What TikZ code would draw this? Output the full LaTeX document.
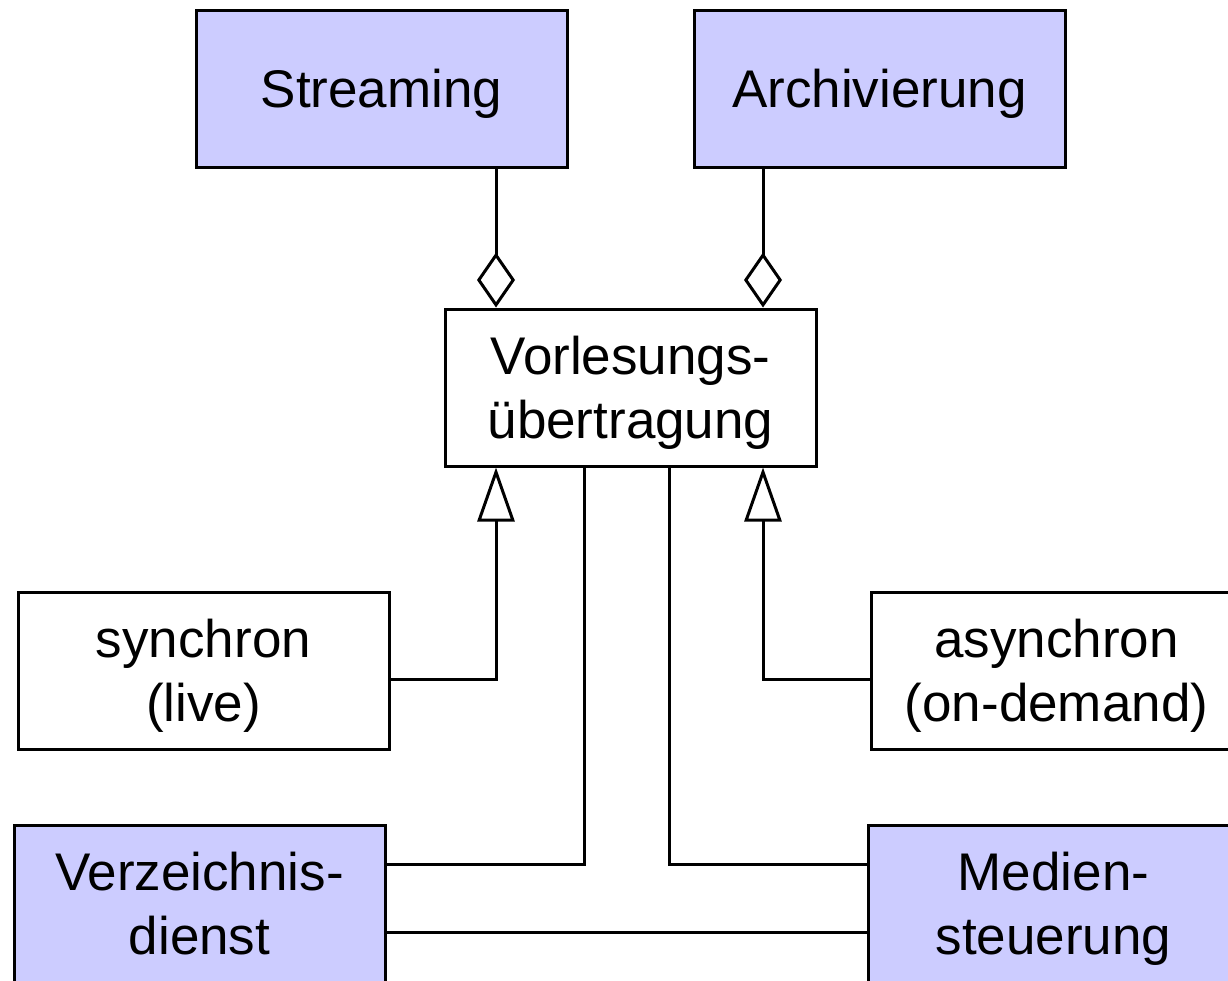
\documentclass[tikz,border=0pt]{standalone}
\usepackage{fontspec}
\setmainfont{Liberation Sans}
\usetikzlibrary{arrows.meta}
\definecolor{compfill}{RGB}{204,204,255}
\begin{document}
\begin{tikzpicture}[x=1pt,y=-1pt,line width=3pt,
  box/.style={draw=black,line width=3pt,minimum width=371pt,minimum height=157pt,
    inner sep=0pt,align=center,font=\fontsize{53}{64}\selectfont,anchor=north west,
    text depth=0pt},
  comp/.style={box,fill=compfill},
  plainbox/.style={box,fill=white},
  agg/.style={-{Diamond[open,length=55pt,width=38pt]}},
  gen/.style={-{Triangle[open,length=54pt,width=37pt]}}]
\useasboundingbox (0,0) rectangle (1228,980);
\clip (0,0) rectangle (1228,980);
\node[comp] (s) at (194.5,8.5) {Streaming};
\node[comp] (a) at (692.5,8.5) {Archivierung};
\node[plainbox] (v) at (443.5,307.5) {Vorlesungs-\\übertragung};
\node[plainbox] (sy) at (16.5,590.5) {synchron\\(live)};
\node[plainbox] (as) at (869.5,590.5) {asynchron\\(on-demand)};
\node[comp] (vz) at (12.5,823.5) {Verzeichnis-\\dienst};
\node[comp] (m) at (866.5,823.5) {Medien-\\steuerung};
\coordinate (xl) at (496,0);
\coordinate (xr) at (763,0);
\coordinate (xm1) at (584,0);
\coordinate (xm2) at (669,0);
\coordinate (yh) at (0,679);
\coordinate (y1) at (0,864);
\coordinate (y2) at (0,932);
\draw[agg] (s.south -| xl) -- (v.north -| xl);
\draw[agg] (a.south -| xr) -- (v.north -| xr);
\draw[gen] (sy.east |- yh) -| (v.south -| xl);
\draw[gen] (as.west |- yh) -| (v.south -| xr);
\draw (vz.east |- y1) -| (v.south -| xm1);
\draw (m.west |- y1) -| (v.south -| xm2);
\draw (vz.east |- y2) -- (m.west |- y2);
\end{tikzpicture}
\end{document}
